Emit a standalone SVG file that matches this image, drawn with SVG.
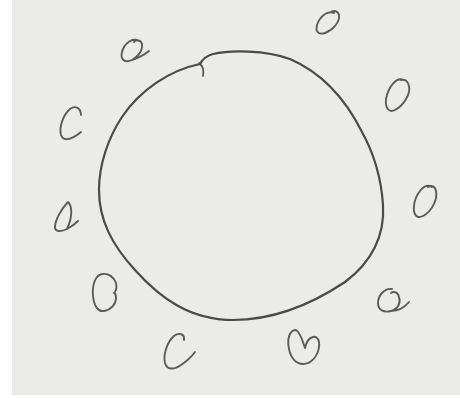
<svg xmlns="http://www.w3.org/2000/svg" width="460" height="398" viewBox="0 0 460 398">
<style>
.ink{fill:none;stroke:#4a4a4a;stroke-linecap:round;stroke-linejoin:round}
.big{stroke-width:2.2}
.mark{stroke-width:1.9;stroke:#5a5a5a}
</style>
<rect x="0" y="0" width="460" height="398" fill="#ffffff"/>
<rect x="12" y="0" width="448" height="395" fill="#ebebea"/>
<g id="cell">
<path class="ink big" d="M 200 64 C 170 70, 140 90, 122 117 C 108 138, 99 165, 99 190 C 99 220, 112 245, 135 270 C 160 298, 190 320, 233 320 C 275 320, 315 302, 345 282 C 372 262, 385 235, 383 205 C 381 175, 372 150, 362 132 C 345 98, 320 72, 290 59 C 265 50, 230 50, 213 54 C 206 56, 202 60, 200 64"/>
<path class="ink" stroke-width="1.6" stroke="#888" d="M 199 63 C 203 66, 204 71, 203 76"/>
</g>
<g id="marks">
<path id="m1" class="ink mark" d="M 334 13 C 328 10, 320 16, 317 25 C 315 32, 319 35, 325 33 C 333 30, 340 22, 339 15 C 338 11, 334 10, 331 12"/>
<path id="m2" class="ink mark" d="M 404 80 C 396 76, 388 88, 386 99 C 385 108, 389 113, 395 110 C 403 106, 411 94, 409 86 C 408 81, 405 79, 401 80"/>
<path id="m3" class="ink mark" d="M 139 41 C 132 37, 124 44, 122 52 C 120 60, 125 63, 132 60 C 138 57, 143 50, 142 44 C 141 40, 136 39, 134 42 M 132 60 C 138 58, 144 55, 149 51"/>
<path id="m4" class="ink mark" d="M 81 115 C 81 108, 75 105, 70 109 C 63 115, 59 127, 61 135 C 63 141, 70 141, 81 132"/>
<path id="m5" class="ink mark" d="M 68 202 C 62 208, 55 220, 55 227 C 55 232, 61 232, 67 229 C 71 227, 75 224, 78 221 M 68 202 C 72 206, 73 216, 67 229"/>
<path id="m6" class="ink mark" d="M 432 187 C 424 182, 415 195, 414 206 C 413 215, 417 219, 423 216 C 431 212, 438 200, 436 191 C 435 186, 432 185, 428 187"/>
<path id="m7" class="ink mark" d="M 103 274 C 95 274, 92 286, 93 296 C 94 306, 98 312, 104 311 C 111 310, 116 304, 116 298 C 116 295, 115 293, 114 293 C 116 291, 117 287, 116 283 C 114 277, 108 273, 103 274"/>
<path id="m8" class="ink mark" d="M 184 340 C 185 334, 179 332, 174 336 C 167 342, 163 355, 165 363 C 167 370, 174 370, 181 365 C 187 361, 192 356, 195 352"/>
<path id="m9" class="ink mark" d="M 296 330 C 289 330, 287 340, 289 349 C 291 358, 296 364, 303 364 C 312 364, 318 355, 319 347 C 320 340, 317 336, 313 337 C 309 338, 306 343, 305 348 C 303 343, 301 333, 296 330"/>
<path id="m10" class="ink mark" d="M 392 289 C 384 288, 378 296, 378 303 C 378 310, 384 313, 391 311 C 398 309, 401 303, 399 297 C 398 292, 394 291, 391 293 M 391 311 C 397 311, 404 308, 409 302"/>
</g>
</svg>
